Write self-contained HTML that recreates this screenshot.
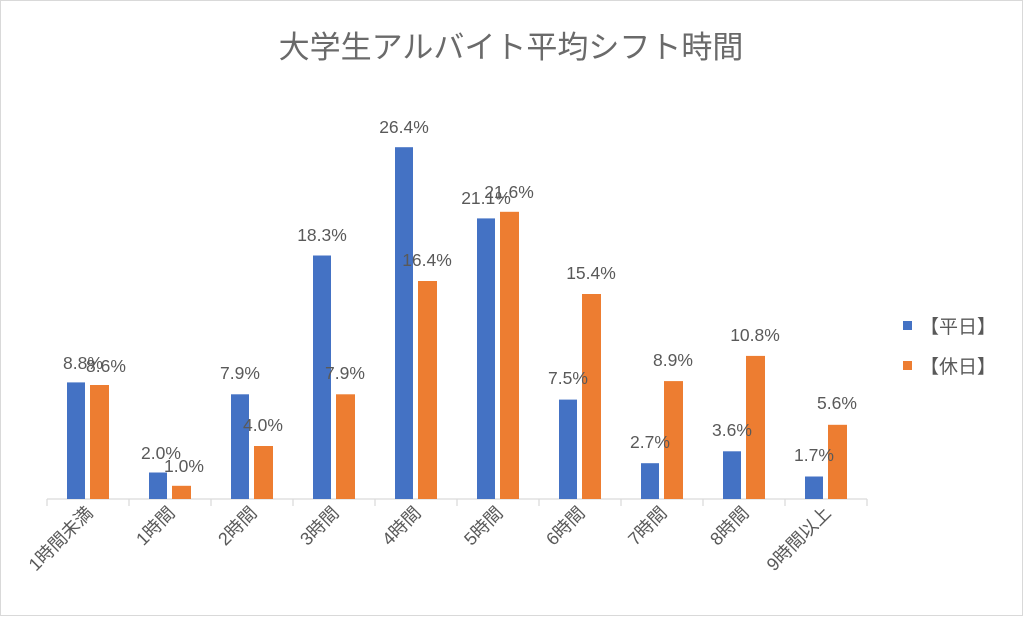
<!DOCTYPE html>
<html><head><meta charset="utf-8"><style>
html,body{margin:0;padding:0;background:#fff}
svg{display:block}
text{font-family:"Liberation Sans","Noto Sans CJK JP",sans-serif;fill:#595959}
</style></head><body>
<svg width="1024" height="617" viewBox="0 0 1024 617" xmlns="http://www.w3.org/2000/svg">
<rect x="0.5" y="0.5" width="1022" height="615" fill="#fff" stroke="#d9d9d9"/>
<text x="511" y="58" font-size="31" text-anchor="middle" style="fill:#6a6a6a">大学生アルバイト平均シフト時間</text>
<line x1="47" y1="499" x2="867" y2="499" stroke="#d9d9d9" stroke-width="1.2"/>
<g stroke="#d9d9d9" stroke-width="1.2">
<line x1="47" y1="499" x2="47" y2="506"/><line x1="129" y1="499" x2="129" y2="506"/><line x1="211" y1="499" x2="211" y2="506"/><line x1="293" y1="499" x2="293" y2="506"/><line x1="375" y1="499" x2="375" y2="506"/><line x1="457" y1="499" x2="457" y2="506"/><line x1="539" y1="499" x2="539" y2="506"/><line x1="621" y1="499" x2="621" y2="506"/><line x1="703" y1="499" x2="703" y2="506"/><line x1="785" y1="499" x2="785" y2="506"/><line x1="867" y1="499" x2="867" y2="506"/>
</g>
<g>
<rect x="67" y="382.4" width="18" height="116.6" fill="#4472c4"/><rect x="90" y="385.0" width="19" height="114" fill="#ed7d31"/>
<rect x="149" y="472.5" width="18" height="26.5" fill="#4472c4"/><rect x="172" y="485.8" width="19" height="13.2" fill="#ed7d31"/>
<rect x="231" y="394.3" width="18" height="104.7" fill="#4472c4"/><rect x="254" y="446.0" width="19" height="53" fill="#ed7d31"/>
<rect x="313" y="255.5" width="18" height="243.5" fill="#4472c4"/><rect x="336" y="394.3" width="19" height="104.7" fill="#ed7d31"/>
<rect x="395" y="147.2" width="18" height="351.8" fill="#4472c4"/><rect x="418" y="281.0" width="19" height="218" fill="#ed7d31"/>
<rect x="477" y="218.4" width="18" height="280.6" fill="#4472c4"/><rect x="500" y="211.8" width="19" height="287.2" fill="#ed7d31"/>
<rect x="559" y="399.6" width="18" height="99.4" fill="#4472c4"/><rect x="582" y="294.0" width="19" height="205" fill="#ed7d31"/>
<rect x="641" y="463.2" width="18" height="35.8" fill="#4472c4"/><rect x="664" y="381.1" width="19" height="117.9" fill="#ed7d31"/>
<rect x="723" y="451.3" width="18" height="47.7" fill="#4472c4"/><rect x="746" y="355.9" width="19" height="143.1" fill="#ed7d31"/>
<rect x="805" y="476.5" width="18" height="22.5" fill="#4472c4"/><rect x="828" y="424.8" width="19" height="74.2" fill="#ed7d31"/>
</g>
<g font-size="17.5" text-anchor="middle">
<text x="83" y="369">8.8%</text><text x="106" y="372">8.6%</text>
<text x="161" y="459">2.0%</text><text x="184" y="472">1.0%</text>
<text x="240" y="379">7.9%</text><text x="263" y="431">4.0%</text>
<text x="322" y="241">18.3%</text><text x="345" y="379">7.9%</text>
<text x="404" y="133">26.4%</text><text x="427" y="266">16.4%</text>
<text x="486" y="204">21.1%</text><text x="509" y="198">21.6%</text>
<text x="568" y="384">7.5%</text><text x="591" y="279">15.4%</text>
<text x="650" y="448">2.7%</text><text x="673" y="366">8.9%</text>
<text x="732" y="436">3.6%</text><text x="755" y="341">10.8%</text>
<text x="814" y="461">1.7%</text><text x="837" y="409">5.6%</text>
</g>
<g font-size="18" text-anchor="end">
<text transform="translate(94,514) rotate(-45)">1時間未満</text>
<text transform="translate(176,514) rotate(-45)">1時間</text>
<text transform="translate(258,514) rotate(-45)">2時間</text>
<text transform="translate(340,514) rotate(-45)">3時間</text>
<text transform="translate(422,514) rotate(-45)">4時間</text>
<text transform="translate(504,514) rotate(-45)">5時間</text>
<text transform="translate(586,514) rotate(-45)">6時間</text>
<text transform="translate(668,514) rotate(-45)">7時間</text>
<text transform="translate(750,514) rotate(-45)">8時間</text>
<text transform="translate(832,514) rotate(-45)">9時間以上</text>
</g>
<rect x="903" y="321" width="9" height="9" fill="#4472c4"/>
<text x="920" y="333" font-size="19">【平日】</text>
<rect x="903" y="361" width="9" height="9" fill="#ed7d31"/>
<text x="920" y="373" font-size="19">【休日】</text>
</svg>
</body></html>
